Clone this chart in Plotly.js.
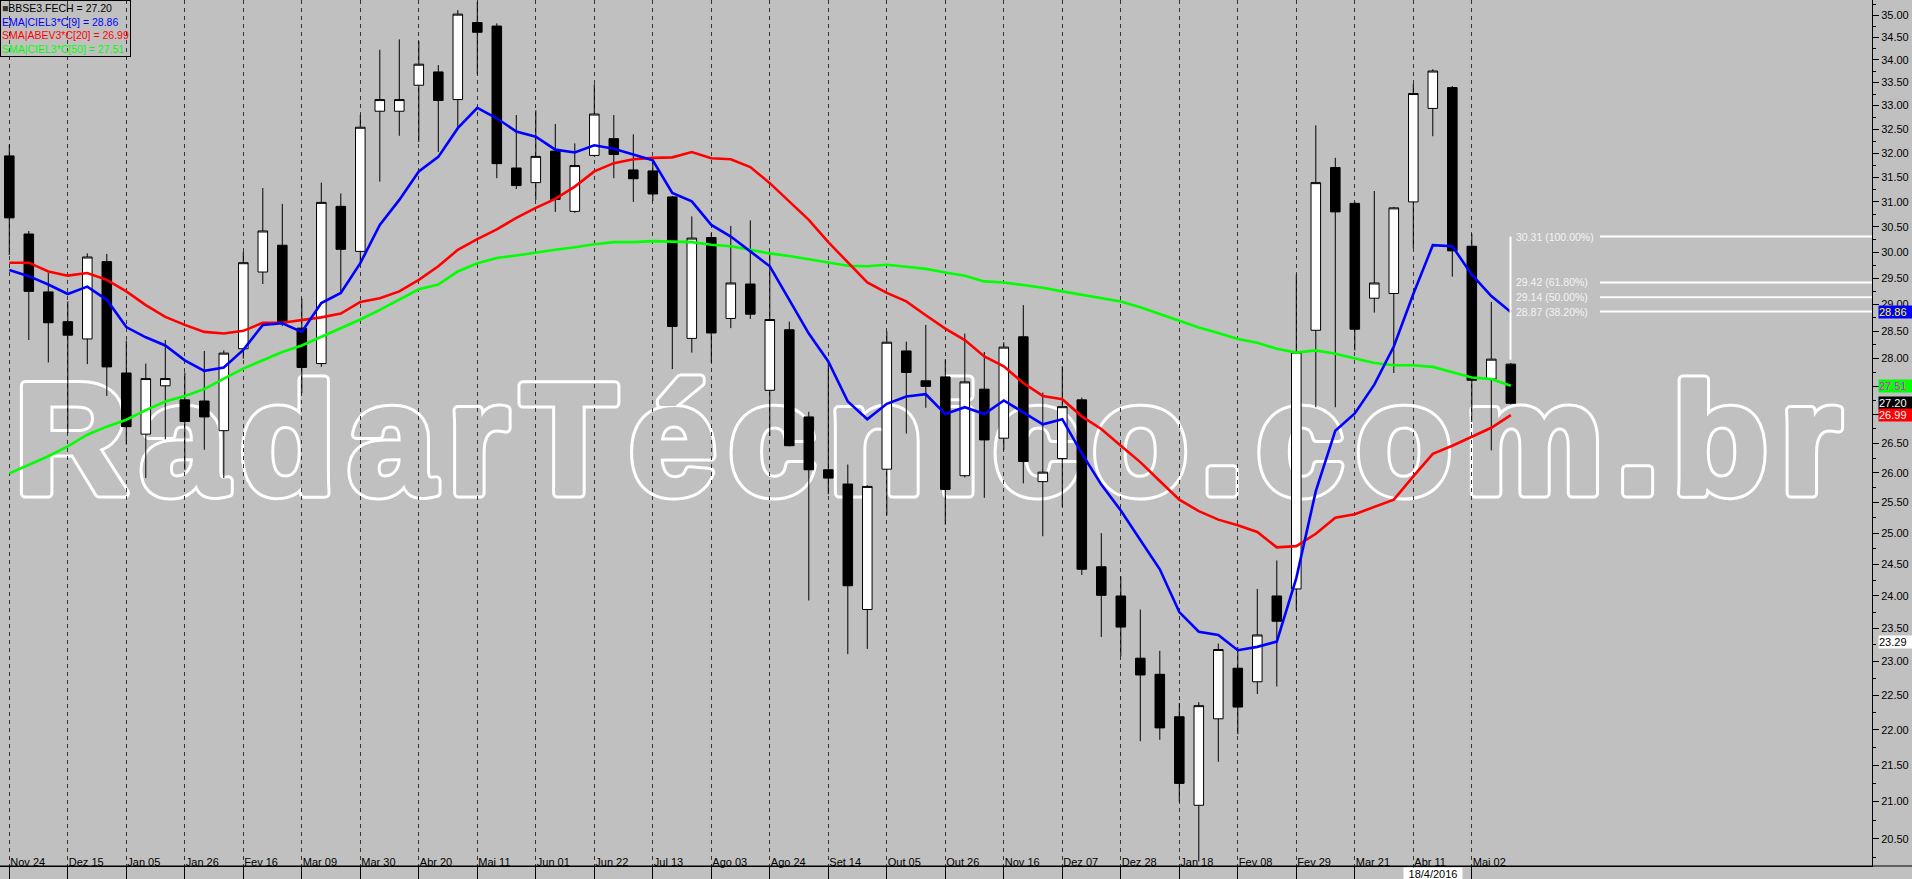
<!DOCTYPE html>
<html><head><meta charset="utf-8">
<script src="https://cdn.plot.ly/plotly-3.0.1.min.js"></script>
<style>
html,body{margin:0;padding:0;background:#c0c0c0;overflow:hidden;width:1912px;height:879px;}
#wm{position:absolute;left:0;top:0;z-index:0;}
#chart{position:absolute;left:0;top:0;width:1912px;height:879px;z-index:1;}
</style></head><body>
<svg id="wm" width="1912" height="879">
<g font-family="Liberation Sans, Arial, sans-serif" font-weight="bold" font-size="156">
<text x="15" y="493" fill="#ffffff" stroke="#ffffff" stroke-width="11" stroke-linejoin="round" textLength="1826" lengthAdjust="spacing">RadarTécnico.com.br</text>
<text x="15" y="493" fill="#c0c0c0" stroke="#c0c0c0" stroke-width="5" stroke-linejoin="round" textLength="1826" lengthAdjust="spacing">RadarTécnico.com.br</text>
</g></svg>
<div id="chart"></div>
<script>
// ---- data ----
const weeks = ["2014-11-24","2014-12-01","2014-12-08","2014-12-15","2014-12-22","2014-12-29",
"2015-01-05","2015-01-12","2015-01-19","2015-01-26","2015-02-02","2015-02-09","2015-02-16","2015-02-23","2015-03-02","2015-03-09","2015-03-16","2015-03-23","2015-03-30","2015-04-06","2015-04-13","2015-04-20","2015-04-27","2015-05-04","2015-05-11","2015-05-18","2015-05-25","2015-06-01","2015-06-08","2015-06-15","2015-06-22","2015-06-29","2015-07-06","2015-07-13","2015-07-20","2015-07-27","2015-08-03","2015-08-10","2015-08-17","2015-08-24","2015-08-31","2015-09-07","2015-09-14","2015-09-21","2015-09-28","2015-10-05","2015-10-12","2015-10-19","2015-10-26","2015-11-02","2015-11-09","2015-11-16","2015-11-23","2015-11-30","2015-12-07","2015-12-14","2015-12-21","2015-12-28",
"2016-01-04","2016-01-11","2016-01-18","2016-01-25","2016-02-01","2016-02-08","2016-02-15","2016-02-22","2016-02-29","2016-03-07","2016-03-14","2016-03-21","2016-03-28","2016-04-04","2016-04-11","2016-04-18","2016-04-25","2016-05-02","2016-05-09","2016-05-16"];

const open  = [31.94,30.36,29.24,28.68,28.36,29.82,27.74,26.66,27.51,27.26,27.24,26.72,28.18,29.62,30.14,28.56,27.91,30.91,30.02,32.88,32.88,33.44,33.73,33.13,34.83,34.75,31.69,31.39,32.04,30.81,31.95,32.30,31.65,31.63,31.10,28.37,30.29,28.74,29.39,27.43,28.53,26.96,26.05,25.81,23.79,26.06,28.14,27.60,27.67,25.95,27.45,26.59,28.40,25.85,26.24,27.26,24.46,24.00,23.05,22.81,22.19,20.95,22.16,22.90,22.70,24.00,24.11,28.52,31.70,30.97,29.12,29.21,31.00,32.94,33.39,30.12,27.63,27.90];
const high  = [32.18,30.42,29.60,29.06,29.98,29.97,28.33,27.91,28.34,27.75,28.14,28.15,30.01,31.28,30.96,29.11,31.39,31.17,32.80,34.22,34.45,34.41,33.88,35.11,35.30,34.81,32.80,32.90,32.61,32.20,33.46,32.80,32.39,31.82,31.12,30.71,30.38,30.52,30.63,29.98,28.68,27.05,27.94,26.14,25.79,28.50,28.31,28.62,27.99,28.46,28.12,28.30,28.99,27.39,27.86,27.30,25.00,24.31,23.79,23.16,22.39,22.40,23.27,23.22,24.11,24.56,29.57,32.58,31.90,31.00,31.22,30.90,33.47,33.79,33.42,30.36,29.05,27.92];
const low   = [29.95,28.34,27.93,26.68,27.90,27.33,26.48,25.91,26.57,26.05,26.39,25.91,28.00,29.39,28.60,27.38,27.85,29.22,29.80,31.41,32.36,32.23,32.02,32.49,33.68,31.48,31.26,31.04,30.80,30.78,31.92,31.48,31.00,31.02,27.81,28.11,27.93,28.56,28.73,26.63,26.45,23.93,25.64,23.11,23.19,25.29,26.67,27.12,25.14,25.92,25.58,26.39,25.82,24.95,25.43,24.33,23.37,23.08,21.84,21.86,21.00,20.20,21.55,21.94,22.52,22.63,23.78,27.13,27.13,28.15,28.85,27.74,30.08,32.35,29.53,26.87,26.38,27.18];
const close = [30.68,29.25,28.66,28.43,29.91,27.85,26.79,27.64,27.64,26.88,26.96,28.10,29.80,30.42,28.66,27.84,30.99,30.06,32.54,33.13,33.13,33.90,33.11,35.02,34.61,31.78,31.33,31.93,31.05,31.74,32.82,31.97,31.47,31.16,28.59,30.28,28.47,29.41,28.82,28.72,26.46,26.05,25.91,24.16,25.77,28.30,27.75,27.50,25.72,27.58,26.56,28.21,26.19,26.01,27.14,24.42,24.01,23.52,22.80,22.03,21.25,22.35,23.18,22.33,23.40,23.61,28.12,31.39,30.80,28.54,29.41,30.88,33.26,33.75,30.03,27.61,27.99,27.20];

const ema9  = [29.66,29.54,29.38,29.20,29.34,29.09,28.58,28.39,28.24,27.97,27.78,27.84,28.16,28.62,28.65,28.49,29.03,29.22,29.79,30.54,31.04,31.62,31.92,32.52,32.95,32.73,32.45,32.34,32.07,32.01,32.16,32.09,31.97,31.85,31.18,31.01,30.54,30.31,30.02,29.73,29.09,28.46,27.95,27.23,26.92,27.19,27.32,27.36,27.01,27.13,27.01,27.25,27.04,26.83,26.92,26.33,25.80,25.37,24.89,24.42,23.75,23.45,23.40,23.17,23.22,23.30,24.28,25.69,26.72,27.02,27.53,28.22,29.20,30.14,30.12,29.57,29.16,28.86];
const sma20 = [29.80,29.80,29.63,29.55,29.60,29.47,29.25,28.99,28.77,28.62,28.49,28.46,28.51,28.66,28.66,28.71,28.76,28.83,29.05,29.12,29.25,29.47,29.73,30.05,30.26,30.45,30.68,30.88,31.06,31.31,31.62,31.79,31.87,31.90,31.91,32.02,31.89,31.87,31.71,31.38,31.00,30.64,30.20,29.80,29.42,29.22,29.06,28.80,28.55,28.34,28.04,27.86,27.56,27.33,27.27,26.97,26.75,26.46,26.18,25.86,25.55,25.36,25.22,25.13,25.02,24.77,24.79,24.99,25.25,25.31,25.43,25.55,25.94,26.32,26.46,26.61,26.77,26.99];
const sma50 = [25.99,26.13,26.28,26.45,26.65,26.79,26.91,27.08,27.23,27.33,27.45,27.64,27.82,27.97,28.12,28.24,28.40,28.55,28.72,28.90,29.10,29.29,29.38,29.63,29.79,29.89,29.94,30.00,30.05,30.10,30.16,30.20,30.20,30.22,30.21,30.20,30.15,30.12,30.05,29.98,29.93,29.87,29.80,29.74,29.73,29.76,29.72,29.68,29.61,29.55,29.44,29.42,29.37,29.32,29.25,29.19,29.12,29.06,28.95,28.82,28.70,28.57,28.47,28.36,28.29,28.18,28.11,28.15,28.09,28.01,27.92,27.88,27.88,27.85,27.75,27.66,27.63,27.51];

const tickWeeks = ["2014-11-24","2014-12-15","2015-01-05","2015-01-26","2015-02-16","2015-03-09","2015-03-30","2015-04-20","2015-05-11","2015-06-01","2015-06-22","2015-07-13","2015-08-03","2015-08-24","2015-09-14","2015-10-05","2015-10-26","2015-11-16","2015-12-07","2015-12-28","2016-01-18","2016-02-08","2016-02-29","2016-03-21","2016-04-11","2016-05-02"];
const tickText  = ["Nov 24","Dez 15","Jan 05","Jan 26","Fev 16","Mar 09","Mar 30","Abr 20","Mai 11","Jun 01","Jun 22","Jul 13","Ago 03","Ago 24","Set 14","Out 05","Out 26","Nov 16","Dez 07","Dez 28","Jan 18","Fev 08","Fev 29","Mar 21","Abr 11","Mai 02"];
const priceTicks = [20.5,21,21.5,22,22.5,23,23.5,24,24.5,25,25.5,26,26.5,27,27.5,28,28.5,29,29.5,30,30.5,31,31.5,32,32.5,33,33.5,34,34.5,35];

const cursorWeek = "2016-04-18";
const cursorLabel = "18/4/2016";
const fibLevels = [30.31, 29.42, 29.14, 28.87];
const fibPcts   = ["100.00%", "61.80%", "50.00%", "38.20%"];
const fibBase   = 27.98;
const refLevel  = 23.29;

// ---- layout helpers (pixels -> axis units) ----
const W = 1912, H = 879, M = {l:0, r:40, t:0, b:13};
const PW = W - M.l - M.r;
const xr = [-0.477, 95.523];
const pxToX = px => xr[0] + px * (xr[1] - xr[0]) / PW;
const yr = [Math.log10(20.14), Math.log10(35.343)];
const FONT = "Liberation Sans, Arial, sans-serif";

const x = weeks.map((d, i) => i);
const tickvals = tickWeeks.map(d => weeks.indexOf(d));
const minorTicks = priceTicks.map(v => v - 0.25).concat([priceTicks[priceTicks.length-1] + 0.25]);
const last = a => a[a.length - 1];

const traces = [];
traces.push({
  type: 'candlestick', x: x, open: open, high: high, low: low, close: close,
  increasing: {line: {color: '#000000', width: 1}, fillcolor: '#ffffff'},
  decreasing: {line: {color: '#000000', width: 1}, fillcolor: '#000000'},
  whiskerwidth: 0, hoverinfo: 'skip', showlegend: false
});
[[sma50, '#00ff00'], [sma20, '#ff0000'], [ema9, '#0000ff']].forEach(([s, c]) => {
  traces.push({type: 'scatter', mode: 'lines', x: x, y: s, line: {color: c, width: 2.6}, hoverinfo: 'skip', showlegend: false});
});
// Fibonacci retracement
fibLevels.forEach(lv => {
  traces.push({type: 'scatter', mode: 'lines', x: [pxToX(1600), xr[1] + 2], y: [lv, lv],
    line: {color: '#ffffff', width: 2}, hoverinfo: 'skip', showlegend: false});
});
traces.push({type: 'scatter', mode: 'lines', x: [pxToX(1510.5), pxToX(1510.5)], y: [fibLevels[0], fibBase],
  line: {color: '#ffffff', width: 2}, hoverinfo: 'skip', showlegend: false});

// price markers on the axis
const markers = [
  {v: last(ema9),  bg: '#0000ff', fg: '#ffff00'},
  {v: last(sma50), bg: '#00ff00', fg: '#ff00ff'},
  {v: last(close), bg: '#000000', fg: '#ffffff'},
  {v: last(sma20), bg: '#ff0000', fg: '#c8ffff'},
  {v: refLevel,    bg: '#ffffff', fg: '#000000'}
];
traces.push({type: 'scatter', mode: 'markers', x: markers.map(() => pxToX(1879.5)), y: markers.map(m => m.v),
  marker: {symbol: 'triangle-left', size: 13, color: markers.map(m => m.bg), line: {width: 0}},
  cliponaxis: false, hoverinfo: 'skip', showlegend: false});

const annotations = [];
// legend box
annotations.push({
  xref: 'paper', yref: 'paper', x: 0, y: 1, xanchor: 'left', yanchor: 'top', showarrow: false, align: 'left',
  text: '<span style="color:#333333">■</span>BBSE3.FECH = ' + last(close).toFixed(2) +
        '<br><span style="color:#0000ff">EMA|CIEL3*C[9] = ' + last(ema9).toFixed(2) + '</span>' +
        '<br><span style="color:#ff0000">SMA|ABEV3*C[20] = ' + last(sma20).toFixed(2) + '</span>' +
        '<br><span style="color:#00ff00">SMA|CIEL3*C[50] = ' + last(sma50).toFixed(2) + '</span>',
  font: {family: FONT, size: 10.5, color: '#000000'},
  bordercolor: '#000000', borderwidth: 1, borderpad: 1
});
// fib labels
fibLevels.forEach((lv, k) => {
  annotations.push({xref: 'x', yref: 'y', x: pxToX(1515), y: Math.log10(lv), xanchor: 'left', yanchor: 'middle',
    showarrow: false, borderpad: 0, text: lv.toFixed(2) + ' (' + fibPcts[k] + ')', font: {family: FONT, size: 10.5, color: '#f4f4f4'}});
});
// axis price markers
markers.forEach(m => {
  annotations.push({xref: 'paper', yref: 'y', x: 1, y: Math.log10(m.v), xanchor: 'left', yanchor: 'middle',
    xshift: 6, showarrow: false, text: m.v.toFixed(2), bgcolor: m.bg, width: 33, height: 12, align: 'left',
    borderpad: 0, font: {family: FONT, size: 11, color: m.fg}});
});
// cursor date label
annotations.push({xref: 'x', yref: 'paper', x: weeks.indexOf(cursorWeek), y: 0, xanchor: 'center', yanchor: 'top',
  yshift: -1, showarrow: false, text: cursorLabel, bgcolor: '#ffffff', width: 58, height: 11, borderpad: 0,
  font: {family: FONT, size: 11, color: '#000000'}});

const layout = {
  width: W, height: H, margin: {l: M.l, r: M.r, t: M.t, b: M.b, pad: 0},
  paper_bgcolor: 'rgba(0,0,0,0)', plot_bgcolor: 'rgba(0,0,0,0)',
  showlegend: false, hovermode: false,
  xaxis: {
    type: 'linear', range: xr, autorange: false, rangeslider: {visible: false},
    tickmode: 'array', tickvals: tickvals, ticktext: tickText,
    ticks: 'outside', ticklen: 13, tickwidth: 1, tickcolor: '#000000',
    ticklabelposition: 'outside right', ticklabelstandoff: -14,
    tickfont: {family: FONT, size: 11, color: '#000000'},
    showgrid: true, gridcolor: '#333333', gridwidth: 1, griddash: '4px,4px',
    showline: true, linecolor: '#000000', linewidth: 1, zeroline: false, automargin: false, fixedrange: true
  },
  yaxis: {
    type: 'log', side: 'right', range: yr, autorange: false,
    tickmode: 'array', tickvals: priceTicks, tickformat: '.2f',
    ticks: 'outside', ticklen: 6, tickwidth: 1, tickcolor: '#000000',
    tickfont: {family: FONT, size: 11, color: '#000000'},
    minor: {tickmode: 'array', tickvals: minorTicks, ticks: 'outside', ticklen: 3, tickcolor: '#000000', showgrid: false},
    showgrid: false, showline: true, linecolor: '#000000', linewidth: 1, zeroline: false, automargin: false, fixedrange: true
  },
  shapes: [{type: 'line', xref: 'paper', yref: 'paper', x0: 0, x1: W / PW, y0: 0, y1: 0, line: {color: '#000000', width: 1}}],
  annotations: annotations
};
Plotly.newPlot('chart', traces, layout, {displayModeBar: false, staticPlot: true});
</script>
</body></html>
